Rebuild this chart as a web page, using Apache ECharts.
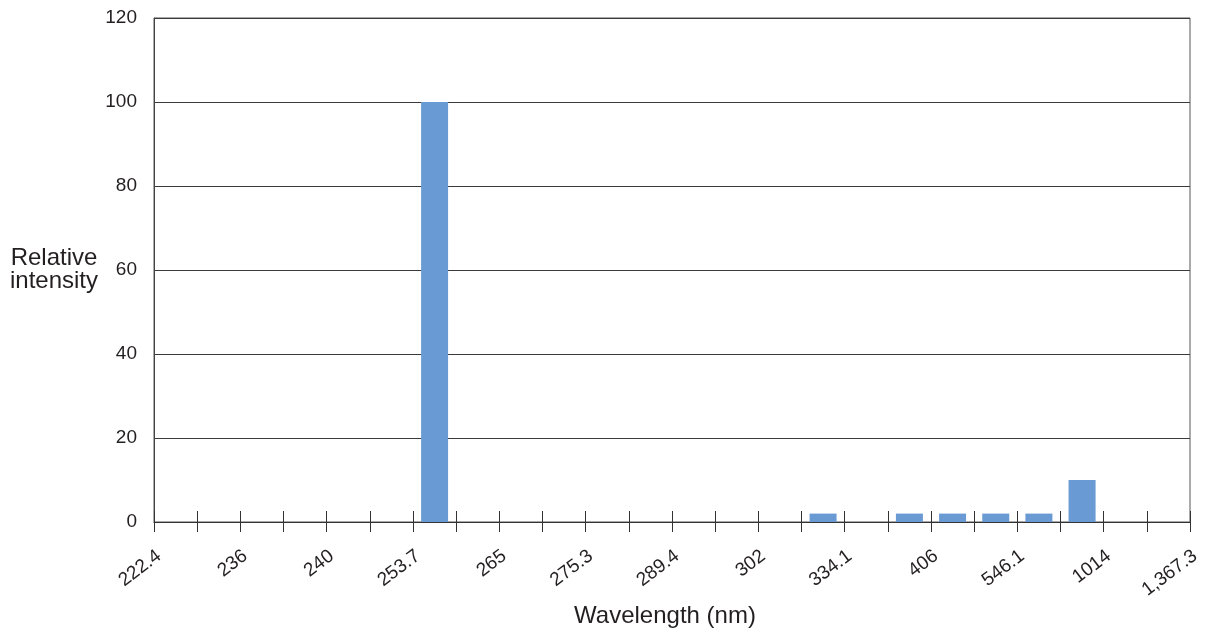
<!DOCTYPE html>
<html>
<head>
<meta charset="utf-8">
<script src="https://cdn.jsdelivr.net/npm/echarts@6/dist/echarts.min.js"></script>
<style>
  html, body { margin: 0; padding: 0; background: #ffffff; }
  #chart { width: 1208px; height: 632px; }
</style>
</head>
<body>
<div id="chart"></div>
<script>
// Tick labels sit on every other bin boundary (boundaries 0, 2, 4, ... 24)
const tickLabels = ['222.4', '236', '240', '253.7', '265', '275.3', '289.4', '302', '334.1', '406', '546.1', '1014', '1,367.3'];
// Relative intensity for each of the 24 bins between boundaries
const intensity = [0, 0, 0, 0, 0, 0, 100, 0, 0, 0, 0, 0, 0, 0, 0, 2, 0, 2, 2, 2, 2, 10, 0, 0];
const yTicks = [0, 20, 40, 60, 80, 100, 120];

const FONT = '"Liberation Sans", Arial, Helvetica, sans-serif';
const TEXT = '#231f20';
const binCount = intensity.length;
const gridTop = 18, gridBottom = 110, chartH = 632;
const gridH = chartH - gridTop - gridBottom;
const labelShift = 5;

const chart = echarts.init(document.getElementById('chart'), null, { renderer: 'canvas' });
chart.setOption({
  animation: false,
  backgroundColor: '#ffffff',
  grid: [
    {
      left: 154, right: 18, top: gridTop, bottom: gridBottom,
      show: true, borderColor: '#555', borderWidth: 1, containLabel: false,
      outerBoundsMode: 'none'
    },
    {
      left: 154 + labelShift, right: 18 - labelShift, top: gridTop, bottom: gridBottom,
      show: false, containLabel: false, outerBoundsMode: 'none'
    }
  ],
  xAxis: [
    {
      gridIndex: 0, type: 'value', min: 0, max: binCount, interval: 1, position: 'bottom',
      axisLine: { show: true, lineStyle: { color: '#333', width: 1.2 } },
      axisTick: { show: true, inside: false, length: 10, lineStyle: { color: '#333', width: 1 } },
      splitLine: { show: false },
      axisLabel: { show: false },
      name: 'Wavelength (nm)', nameLocation: 'middle', nameGap: 94,
      nameTextStyle: { fontSize: 24, fontFamily: FONT, color: TEXT, verticalAlign: 'middle', align: 'center', padding: [0, 14, 0, 0] }
    },
    {
      gridIndex: 0, type: 'value', min: 0, max: binCount, interval: 1, position: 'top', offset: -gridH,
      axisLine: { show: false },
      axisTick: { show: true, inside: false, length: 11, lineStyle: { color: '#333', width: 1 } },
      splitLine: { show: false },
      axisLabel: { show: false }
    },
    {
      gridIndex: 1, type: 'value', min: 0, max: binCount, interval: 1, position: 'bottom',
      axisLine: { show: false }, axisTick: { show: false }, splitLine: { show: false },
      axisLabel: {
        show: true, rotate: 37, margin: 32, fontSize: 19, fontFamily: FONT, color: TEXT,
        showMinLabel: true, showMaxLabel: true,
        formatter: function (v) { return (v % 2 === 0) ? (tickLabels[v / 2] || '') : ''; }
      }
    }
  ],
  yAxis: [
    {
      gridIndex: 0, type: 'value', min: yTicks[0], max: yTicks[yTicks.length - 1], interval: 20,
      axisLine: { show: true, lineStyle: { color: '#444', width: 1 } },
      axisTick: { show: false },
      splitLine: { show: true, lineStyle: { color: '#3a3a3a', width: 1 } },
      axisLabel: { fontSize: 19, fontFamily: FONT, color: TEXT, margin: 17 },
      name: 'Relative\nintensity', nameLocation: 'middle', nameRotate: 0, nameGap: 100,
      nameTextStyle: { fontSize: 24, fontFamily: FONT, color: TEXT, align: 'center', verticalAlign: 'middle', lineHeight: 23, padding: [0, 0, 5, 0] }
    },
    {
      gridIndex: 1, type: 'value', min: 0, max: 1, show: false
    }
  ],
  series: [{
    type: 'bar',
    xAxisIndex: 0,
    yAxisIndex: 0,
    barWidth: 27,
    itemStyle: { color: '#6a9ad3' },
    data: intensity.map(function (v, i) { return [i + 0.5, v]; })
  }]
});
</script>
</body>
</html>
